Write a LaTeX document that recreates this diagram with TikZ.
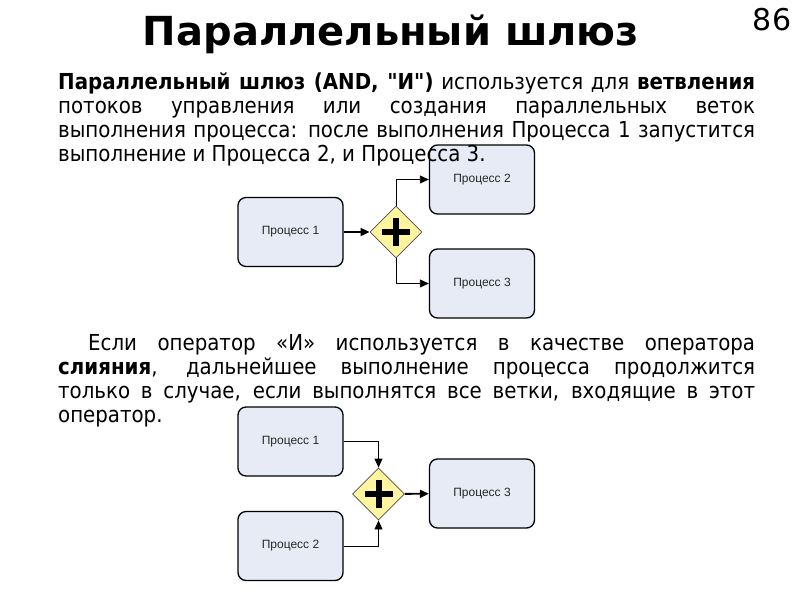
\documentclass[tikz,border=0pt]{standalone}
\usepackage{fontspec}
\setmainfont{DejaVu Sans Condensed}[Ligatures=TeXOff]
\newfontfamily\titlefont{DejaVu Sans}
\newfontfamily\boxfont{Liberation Sans}
\usetikzlibrary{arrows.meta,shapes.geometric}
\definecolor{procfill}{RGB}{230,235,245}
\definecolor{gatefill}{RGB}{255,244,160}

\begin{document}
\begin{tikzpicture}[x=1pt,y=-1pt,>=Triangle,
	proc/.style={draw=black, line width=1.3pt, fill=procfill, rounded corners=8pt,
		minimum width=105pt, minimum height=69pt, inner sep=0pt,
		text=black!85, font=\boxfont\fontsize{12}{14}\selectfont},
	gate/.style={diamond, draw=black!70, line width=0.8pt, fill=gatefill,
		minimum width=52pt, minimum height=52pt, inner sep=0pt},
	flow/.style={-{Triangle[length=9pt,width=8pt]}, line width=0.8pt},
	mainflow/.style={flow, line width=1.8pt},
	para/.style={anchor=north west, inner sep=0pt, text width=697pt, align=justify,
		font=\fontsize{22}{24}\selectfont}]
		\useasboundingbox (0,0) rectangle (800,600);
		% Заголовок
		\node[font=\titlefont\bfseries\fontsize{40}{44}\selectfont] (title) at (391,34) {Параллельный шлюз};
		\node[font=\titlefont\fontsize{30}{32}\selectfont] (page) at (772,20) {86};
		
		% Ветвление
		\node[proc] (p1) at (290.5,232) {Процесс 1};
		\node[gate] (g1) at (396,232) {};
		\node[proc] (p2) at (482,179.5) {Процесс 2};
		\node[proc] (p3) at (482,283.5) {Процесс 3};
		\draw[mainflow] (p1) -- (g1);
		\draw[flow] (g1.north) |- (p2.west);
		\draw[flow] (g1.south) |- (p3.west);
		
		% Слияние
		\node[proc] (q1) at (290.5,441.5) {Процесс 1};
		\node[proc] (q2) at (290.5,546) {Процесс 2};
		\node[gate] (g2) at (378.5,494) {};
		\node[proc] (q3) at (482,493.5) {Процесс 3};
		\draw[flow] (q1.east) -| (g2.north);
		\draw[flow] (q2.east) -| (g2.south);
		\draw[mainflow] (g2) -- (q3);
		
		% Плюсы
		\foreach \g in {g1,g2}{
			\draw[line width=6pt] ([xshift=-14pt]\g.center) -- ([xshift=14pt]\g.center);
			\draw[line width=6pt] ([yshift=-14pt]\g.center) -- ([yshift=14pt]\g.center);
		}
		
		% Текст
		\node[para] (intro) at (58,72) {\textbf{Параллельный шлюз (AND, "И")} используется для \textbf{ветвления}\linebreak
			потоков управления или создания параллельных веток\linebreak
			выполнения процесса: после выполнения Процесса 1 запустится\linebreak
			выполнение и Процесса 2, и Процесса 3.};
		\node[para] (merge) at (58,334) {\hspace*{30pt}Если оператор «И» используется в качестве оператора\linebreak
			\textbf{слияния}, дальнейшее выполнение процесса продолжится\linebreak
			только в случае, если выполнятся все ветки, входящие в этот\linebreak
			оператор.};
	\end{tikzpicture}
\end{document}
